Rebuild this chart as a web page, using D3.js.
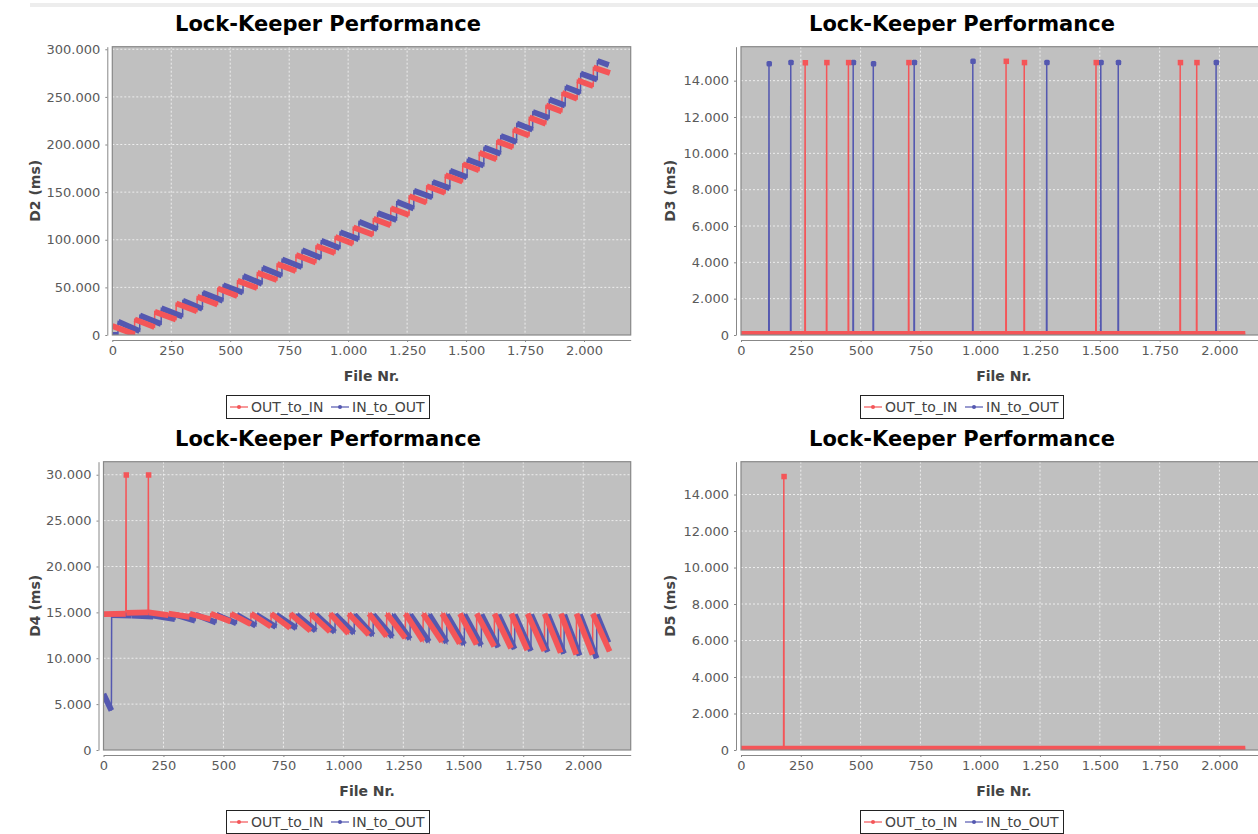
<!DOCTYPE html>
<html>
<head>
<meta charset="utf-8">
<script src="https://cdn.jsdelivr.net/npm/d3@7"></script>
<style>
    body { margin: 0; background: #fff }
    svg { display: block }
</style>
</head>
<body>
<div id="chart"></div>
<script>
// ---- data ----
const seriesNames = ['OUT_to_IN', 'IN_to_OUT']
const fileTicks = [0, 250, 500, 750, 1000, 1250, 1500, 1750, 2000]
const d2Ticks = [0, 50000, 100000, 150000, 200000, 250000, 300000]
const d3Ticks = [0, 2000, 4000, 6000, 8000, 10000, 12000, 14000]
const d4Ticks = [0, 5000, 10000, 15000, 20000, 25000, 30000]
const d5Ticks = [0, 2000, 4000, 6000, 8000, 10000, 12000, 14000]

// runs: [fileFrom, valueFrom, fileTo, valueTo]
const d2OutToIn = [
    [0, 9400, 94, 700], [95, 16400, 179, 8300], [180, 24500, 270, 16300],
    [271, 33200, 359, 24800], [360, 40200, 446, 32000], [447, 49000, 530, 41000],
    [531, 57000, 614, 49200], [615, 65400, 698, 57800], [699, 74500, 778, 67200],
    [779, 83900, 863, 76200], [864, 93400, 944, 86000], [945, 103000, 1021, 95800],
    [1022, 113000, 1106, 105200], [1107, 122000, 1180, 115200], [1181, 133000, 1258, 126000],
    [1259, 145800, 1332, 139000], [1333, 156300, 1411, 149200], [1412, 167800, 1485, 161000],
    [1486, 179400, 1555, 172900], [1556, 191300, 1629, 184600], [1630, 203500, 1699, 197000],
    [1700, 215700, 1767, 209400], [1768, 228300, 1838, 221800], [1839, 240900, 1906, 234600],
    [1907, 254200, 1971, 248000], [1972, 267500, 2039, 261300], [2040, 280800, 2110, 275000]
]
const d2InToOut = [
    [0, 0, 24, 0], [25, 14000, 116, 4000], [117, 20500, 207, 11500],
    [208, 28000, 298, 19500], [299, 36000, 382, 27500], [383, 44400, 469, 36000],
    [470, 52400, 554, 44500], [555, 61900, 635, 53800], [636, 70600, 719, 62300],
    [720, 79400, 804, 71300], [805, 89000, 885, 81000], [886, 99000, 965, 91200],
    [966, 108000, 1045, 100500], [1046, 119000, 1124, 111200], [1125, 128000, 1205, 120800],
    [1206, 139900, 1278, 132800], [1279, 151400, 1357, 144500], [1358, 160800, 1431, 154000],
    [1432, 172400, 1504, 165700], [1505, 184300, 1575, 177800], [1576, 196900, 1646, 190300],
    [1647, 209100, 1714, 202600], [1715, 222000, 1782, 215600], [1783, 234300, 1852, 227900],
    [1853, 247200, 1920, 240900], [1921, 260500, 1985, 254300], [1986, 274500, 2056, 268300],
    [2057, 287800, 2105, 283500]
]

// spikes: [file, peak, base]
const d3OutToInRuns = [[0, 60, 2108, 60]]
const d3OutToInSpikes = [
    [268, 15000, 60], [358, 15010, 60], [449, 15010, 60], [701, 15010, 60], [1108, 15080, 60],
    [1184, 15010, 60], [1484, 15010, 60], [1836, 15010, 60], [1905, 15010, 60]
]
const d3InToOutRuns = [[0, 40, 2104, 40]]
const d3InToOutSpikes = [
    [117, 14950, 40], [208, 15010, 40], [469, 15010, 40], [553, 14950, 40], [724, 15010, 40],
    [969, 15080, 40], [1278, 15010, 40], [1504, 15010, 40], [1577, 15010, 40], [1986, 15010, 40]
]

const d4OutToIn = [
    [0, 14800, 93, 14850], [95, 14950, 186, 15000], [188, 15000, 270, 14700],
    [271, 14850, 359, 14500], [360, 14850, 446, 14250], [447, 14850, 530, 14000],
    [531, 14850, 614, 13700], [615, 14850, 698, 13450], [699, 14850, 778, 13300],
    [779, 14850, 863, 13000], [864, 14850, 944, 12900], [945, 14850, 1021, 12700],
    [1022, 14850, 1106, 12550], [1107, 14850, 1180, 12400], [1181, 14850, 1258, 12200],
    [1259, 14850, 1332, 11900], [1333, 14850, 1411, 11800], [1412, 14850, 1485, 11600],
    [1486, 14850, 1555, 11500], [1556, 14850, 1629, 11300], [1630, 14850, 1699, 11100],
    [1700, 14850, 1767, 10900], [1768, 14850, 1838, 10800], [1839, 14850, 1906, 10600],
    [1907, 14850, 1971, 10400], [1972, 14850, 2039, 10400], [2040, 14850, 2110, 10750]
]
const d4OutToInSpikes = [[94, 30000, 14850], [187, 30000, 15000]]
const d4InToOut = [
    [0, 6100, 33, 4300], [34, 14700, 116, 14650], [117, 14650, 207, 14550],
    [208, 14650, 298, 14250], [299, 14750, 382, 14100], [383, 14750, 469, 13900],
    [470, 14750, 554, 13800], [555, 14750, 635, 13550], [636, 14750, 719, 13400],
    [720, 14750, 804, 13270], [805, 14750, 885, 13000], [886, 14750, 965, 12850],
    [966, 14750, 1045, 12730], [1046, 14750, 1124, 12500], [1125, 14750, 1205, 12300],
    [1206, 14750, 1278, 12100], [1279, 14750, 1357, 11800], [1358, 14750, 1431, 11700],
    [1432, 14750, 1504, 11500], [1505, 14750, 1575, 11400], [1576, 14750, 1646, 11200],
    [1647, 14750, 1714, 11000], [1715, 14750, 1782, 10800], [1783, 14750, 1852, 10700],
    [1853, 14750, 1920, 10500], [1921, 14750, 1985, 10300], [1986, 14750, 2056, 10000],
    [2057, 14750, 2105, 11700]
]

const d5OutToInRuns = [[0, 80, 2108, 80]]
const d5OutToInSpikes = [[179, 15000, 80]]
const d5InToOutRuns = [[0, 60, 2100, 60]]

// ---- drawing ----
const colors = ['#f45558', '#5458b0']
const font = 'DejaVu Sans, Verdana, sans-serif'
const locale = d3.formatLocale({ decimal: ',', thousands: '.', grouping: [3], currency: ['', ''] })
const fmt = locale.format(',d')

const svg = d3.select('#chart').append('svg').attr('width', 1258).attr('height', 834)

// light frame line at the top of the screenshot
svg.append('rect').attr('x', 30).attr('y', 3).attr('width', 1228).attr('height', 4).attr('fill', '#ededed')

function drawPanel (p) {
    const x = d3.scaleLinear().domain([0, 2198]).range([p.left, p.right])
    const y = d3.scaleLinear().domain([0, p.yMax]).range([p.bottom, p.top])
    const g = svg.append('g')

    g.append('clipPath').attr('id', 'clip-' + p.id).
        append('rect').
        attr('x', p.left).attr('y', p.top).
        attr('width', p.right - p.left).attr('height', p.bottom - p.top)

    // title
    g.append('text').
        text('Lock-Keeper Performance').
        attr('x', p.cx).attr('y', p.titleY).
        attr('text-anchor', 'middle').
        attr('font-family', font).attr('font-weight', 'bold').attr('font-size', 21).
        attr('fill', '#000')

    // plot background
    g.append('rect').
        attr('x', p.left).attr('y', p.top).
        attr('width', p.right - p.left).attr('height', p.bottom - p.top).
        attr('fill', '#c0c0c0')

    // grid
    g.selectAll().data(fileTicks.slice(1)).enter().append('line').
        attr('x1', d => x(d)).attr('x2', d => x(d)).
        attr('y1', p.top).attr('y2', p.bottom).
        attr('stroke', '#f2f2f2').attr('stroke-width', 0.9).attr('stroke-dasharray', '2,2')
    g.selectAll().data(p.yTicks.slice(1)).enter().append('line').
        attr('x1', p.left).attr('x2', p.right).
        attr('y1', d => y(d)).attr('y2', d => y(d)).
        attr('stroke', '#f2f2f2').attr('stroke-width', 0.9).attr('stroke-dasharray', '2,2')

    const plot = g.append('g').attr('clip-path', `url(#clip-${p.id})`)

    // series point lists: run endpoints plus spikes, sorted by file
    const series = p.series.map((s, i) => {
        const pts = []
        s.runs.forEach(r => { pts.push([r[0], r[1]]); pts.push([r[2], r[3]]) })
        ;(s.spikes || []).forEach(k => {
            pts.push([k[0] - 1, k[2]]); pts.push([k[0], k[1]]); pts.push([k[0] + 1, k[2]])
        })
        pts.sort((a, b) => a[0] - b[0])
        return { ...s, pts, color: colors[i] }
    })
    // JFreeChart draws series 1 first, series 0 on top; lines first, shapes after
    const order = series.slice().reverse()
    const line = d3.line().x(d => x(d[0])).y(d => y(d[1]))

    order.forEach(s => {
        plot.append('path').
            attr('d', line(s.pts)).
            attr('fill', 'none').attr('stroke', s.color).attr('stroke-width', 1.5)
    })
    order.forEach(s => {
        plot.selectAll().data(s.runs).enter().append('line').
            attr('x1', d => x(d[0])).attr('y1', d => y(d[1])).
            attr('x2', d => x(d[2])).attr('y2', d => y(d[3])).
            attr('stroke', s.color).attr('stroke-width', 5.8).attr('stroke-linecap', 'butt')
        plot.selectAll().data(s.spikes || []).enter().append('rect').
            attr('x', d => x(d[0]) - 2.5).attr('y', d => y(d[1]) - 2.5).
            attr('width', 5.5).attr('height', 5.5).
            attr('rx', s.name === 'IN_to_OUT' ? 1.5 : 0).
            attr('fill', s.color)
    })

    // plot outline
    g.append('rect').
        attr('x', p.left).attr('y', p.top).
        attr('width', p.right - p.left).attr('height', p.bottom - p.top).
        attr('fill', 'none').attr('stroke', '#888').attr('stroke-width', 1.2)

    // y axis
    const ya = g.append('g').
        attr('transform', `translate(${p.left - 5}, 0)`).
        call(d3.axisLeft(y).tickValues(p.yTicks).tickFormat(fmt).tickSizeInner(2).tickSizeOuter(0).tickPadding(5))
    // x axis
    const xa = g.append('g').
        attr('transform', `translate(0, ${p.bottom + 5})`).
        call(d3.axisBottom(x).tickValues(fileTicks).tickFormat(fmt).tickSizeInner(2).tickSizeOuter(0).tickPadding(4))
    ;[ya, xa].forEach(a => {
        a.select('.domain').attr('stroke', '#888')
        a.selectAll('.tick line').attr('stroke', '#888')
        a.selectAll('text').attr('font-family', font).attr('font-size', 13).attr('fill', '#5a5a5a')
    })

    // axis labels
    g.append('text').
        text(p.yLabel).
        attr('transform', `translate(${p.yLabelX}, ${(p.top + p.bottom) / 2}) rotate(-90)`).
        attr('text-anchor', 'middle').attr('dy', '0.35em').
        attr('font-family', font).attr('font-weight', 'bold').attr('font-size', 14).
        attr('fill', '#444')
    g.append('text').
        text('File Nr.').
        attr('x', (p.left + p.right) / 2).attr('y', p.bottom + 46).
        attr('text-anchor', 'middle').
        attr('font-family', font).attr('font-weight', 'bold').attr('font-size', 14).
        attr('fill', '#444')

    // legend
    const lw = 204
    const lg = g.append('g').attr('transform', `translate(${p.cx - lw / 2}, ${p.legendY})`)
    lg.append('rect').attr('x', 0.5).attr('y', 0.5).attr('width', lw - 1).attr('height', 23).
        attr('fill', '#fff').attr('stroke', '#222').attr('stroke-width', 1)
    const items = lg.selectAll().data(series).enter().append('g').
        attr('transform', (d, i) => `translate(${i === 0 ? 4 : 105}, 12)`)
    items.append('line').attr('x1', 0).attr('x2', 18).attr('y1', 0).attr('y2', 0).
        attr('stroke', d => d.color).attr('stroke-width', 1.2)
    items.append('circle').attr('cx', 9).attr('cy', 0).attr('r', 2).
        attr('fill', d => d.color)
    items.append('text').text(d => d.name).
        attr('x', 21).attr('y', 5).
        attr('font-family', font).attr('font-size', 14).attr('fill', '#444')
}

const panels = [
    {
        id: 'd2', left: 112.3, right: 630.7, top: 46.7, bottom: 335, yMax: 302700, yTicks: d2Ticks,
        yLabel: 'D2 (ms)', yLabelX: 35, cx: 328, titleY: 30.5, legendY: 395,
        series: [
            { name: seriesNames[0], runs: d2OutToIn },
            { name: seriesNames[1], runs: d2InToOut }
        ]
    },
    {
        id: 'd3', left: 741, right: 1266.8, top: 46.7, bottom: 335, yMax: 15870, yTicks: d3Ticks,
        yLabel: 'D3 (ms)', yLabelX: 670, cx: 962, titleY: 30.5, legendY: 395,
        series: [
            { name: seriesNames[0], runs: d3OutToInRuns, spikes: d3OutToInSpikes },
            { name: seriesNames[1], runs: d3InToOutRuns, spikes: d3InToOutSpikes }
        ]
    },
    {
        id: 'd4', left: 103.5, right: 630.7, top: 461.7, bottom: 750, yMax: 31420, yTicks: d4Ticks,
        yLabel: 'D4 (ms)', yLabelX: 35, cx: 328, titleY: 446, legendY: 810,
        series: [
            { name: seriesNames[0], runs: d4OutToIn, spikes: d4OutToInSpikes },
            { name: seriesNames[1], runs: d4InToOut }
        ]
    },
    {
        id: 'd5', left: 741, right: 1266.8, top: 461.7, bottom: 750, yMax: 15800, yTicks: d5Ticks,
        yLabel: 'D5 (ms)', yLabelX: 670, cx: 962, titleY: 446, legendY: 810,
        series: [
            { name: seriesNames[0], runs: d5OutToInRuns, spikes: d5OutToInSpikes },
            { name: seriesNames[1], runs: d5InToOutRuns }
        ]
    }
]

panels.forEach(drawPanel)
</script>
</body>
</html>
